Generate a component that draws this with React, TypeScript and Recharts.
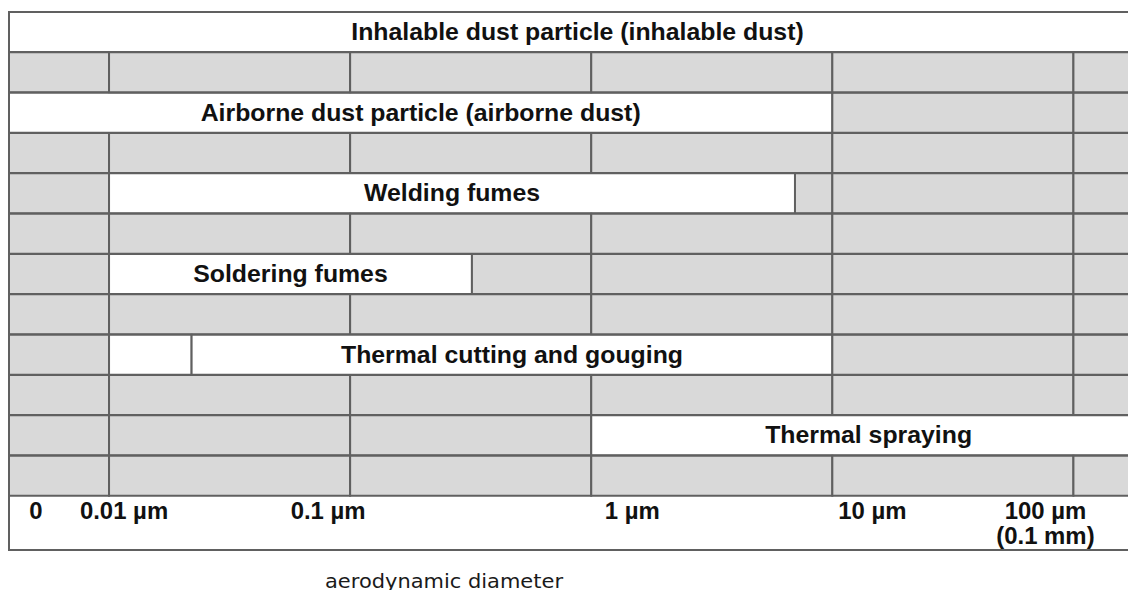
import { BarChart, Bar, XAxis, YAxis, Cell, LabelList } from "recharts";

// one labelled row per process, each followed by a plain grid row
const processNames = [
  "Inhalable dust particle (inhalable dust)",
  "Airborne dust particle (airborne dust)",
  "Welding fumes",
  "Soldering fumes",
  "Thermal cutting and gouging",
  "Thermal spraying",
];

// cell edges in µm, left to right
const processBreaks = [
  [0, 200],
  [0, 10, 100, 200],
  [0, 0.01, 7, 10, 100, 200],
  [0, 0.01, 0.32, 1, 10, 100, 200],
  [0, 0.01, 0.022, 10, 100, 200],
  [0, 0.01, 0.1, 1, 200],
];

// which cells of each process row are white (the rest are grey)
const processWhite = [[0], [0], [1], [1], [1, 2], [3]];
// cell that carries the process name
const processLabelCell = [0, 0, 1, 1, 2, 3];

const gridBreaks = [0, 0.01, 0.1, 1, 10, 100, 200];

const axisTicks = [0, 0.01, 0.1, 1, 10, 100];
const axisLabels = [["0"], ["0.01 µm"], ["0.1 µm"], ["1 µm"], ["10 µm"], ["100 µm", "(0.1 mm)"]];
// labels sit a little off their grid lines in the original
const tickShift = [27, 15, -22, 41, 40, -28];

const GRAY = "#d9d9d9";
const LINE = "#606060";
const FONT = "'Liberation Sans', Arial, sans-serif";
const MAX_CELLS = 6;
// the "0" column is 100px wide against 241px per decade
const ZERO_GAP = 100 / 241;

const pos = (um: number) => (um === 0 ? 0 : Math.log10(um) + 2 + ZERO_GAP);

function makeRow(id: string, breaks: number[], white: number[], label: string, labelCell: number) {
  const row: any = { id, label, labelCell, fills: [] as string[] };
  for (let k = 0; k < MAX_CELLS; k++) {
    if (k < breaks.length - 1) {
      row[`s${k}`] = pos(breaks[k + 1]) - pos(breaks[k]);
      row.fills.push(white.includes(k) ? "#ffffff" : GRAY);
    } else {
      row[`s${k}`] = 0;
      row.fills.push(GRAY);
    }
  }
  return row;
}

const rows: any[] = [];
processNames.forEach((name, i) => {
  rows.push(makeRow(`p${i}`, processBreaks[i], processWhite[i], name, processLabelCell[i]));
  rows.push(makeRow(`g${i}`, gridBreaks, [], "", -1));
});

const AxisTick = (props: any) => {
  const { x, y } = props;
  const i = props.index ?? props.payload?.index ?? 0;
  const lines = axisLabels[i] || [];
  const cx = x + tickShift[i];
  return (
    <g transform={`translate(${cx},${y}) scale(1.04,1)`}>
      <text x={0} y={0} textAnchor="middle" fontFamily={FONT} fontWeight="bold" fontSize={23} fill="#111">
        {lines.map((t, j) => (
          <tspan key={j} x={0} dy={j === 0 ? 23 : 25}>
            {t}
          </tspan>
        ))}
      </text>
    </g>
  );
};

const rowLabel = (props: any) => {
  const { x, y, width, height, value } = props;
  if (!value) return null;
  return (
    <g transform={`translate(${x + width / 2},${y + height / 2}) scale(1.08,1)`}>
      <text x={0} y={0} dy="0.35em" textAnchor="middle" fontFamily={FONT} fontWeight="bold" fontSize={23} fill="#111">
        {value}
      </text>
    </g>
  );
};

const AxisTitle = (props: any) => {
  const vb = props.viewBox;
  return (
    <text
      x={vb.x + 316}
      y={588}
      textLength={238}
      lengthAdjust="spacingAndGlyphs"
      fontFamily="'DejaVu Sans', Verdana, sans-serif"
      fontSize={19}
      fill="#1a1a1a"
    >
      aerodynamic diameter
    </text>
  );
};

export default function App() {
  return (
    <div style={{ position: "absolute", left: 0, top: 0, width: 1128, height: 590, overflow: "hidden", background: "#fff" }}>
      <div
        style={{
          position: "absolute",
          left: 8,
          top: 11,
          width: 1300,
          height: 540,
          boxSizing: "border-box",
          border: `2px solid ${LINE}`,
        }}
      />
      <div style={{ position: "absolute", left: 0, top: 0 }}>
        <BarChart
          width={1146}
          height={590}
          data={rows}
          layout="vertical"
          barCategoryGap={0}
          barGap={0}
          margin={{ top: 12, right: 0, bottom: 0, left: 9 }}
        >
          <YAxis type="category" dataKey="id" hide width={0} />
          <XAxis
            type="number"
            domain={[0, pos(200)]}
            ticks={axisTicks.map(pos)}
            interval={0}
            allowDataOverflow
            axisLine={false}
            tickLine={false}
            tickSize={0}
            tickMargin={0}
            height={94}
            tick={AxisTick}
            label={AxisTitle}
          />
          {Array.from({ length: MAX_CELLS }).map((_, k) => (
            <Bar
              key={k}
              dataKey={`s${k}`}
              stackId="a"
              stroke={LINE}
              strokeWidth={2}
              isAnimationActive={false}
            >
              {rows.map((r) => (
                <Cell key={r.id} fill={r.fills[k]} />
              ))}
              <LabelList
                dataKey={(d: any) => (d.labelCell === k ? d.label : "")}
                content={rowLabel}
              />
            </Bar>
          ))}
        </BarChart>
      </div>
    </div>
  );
}
